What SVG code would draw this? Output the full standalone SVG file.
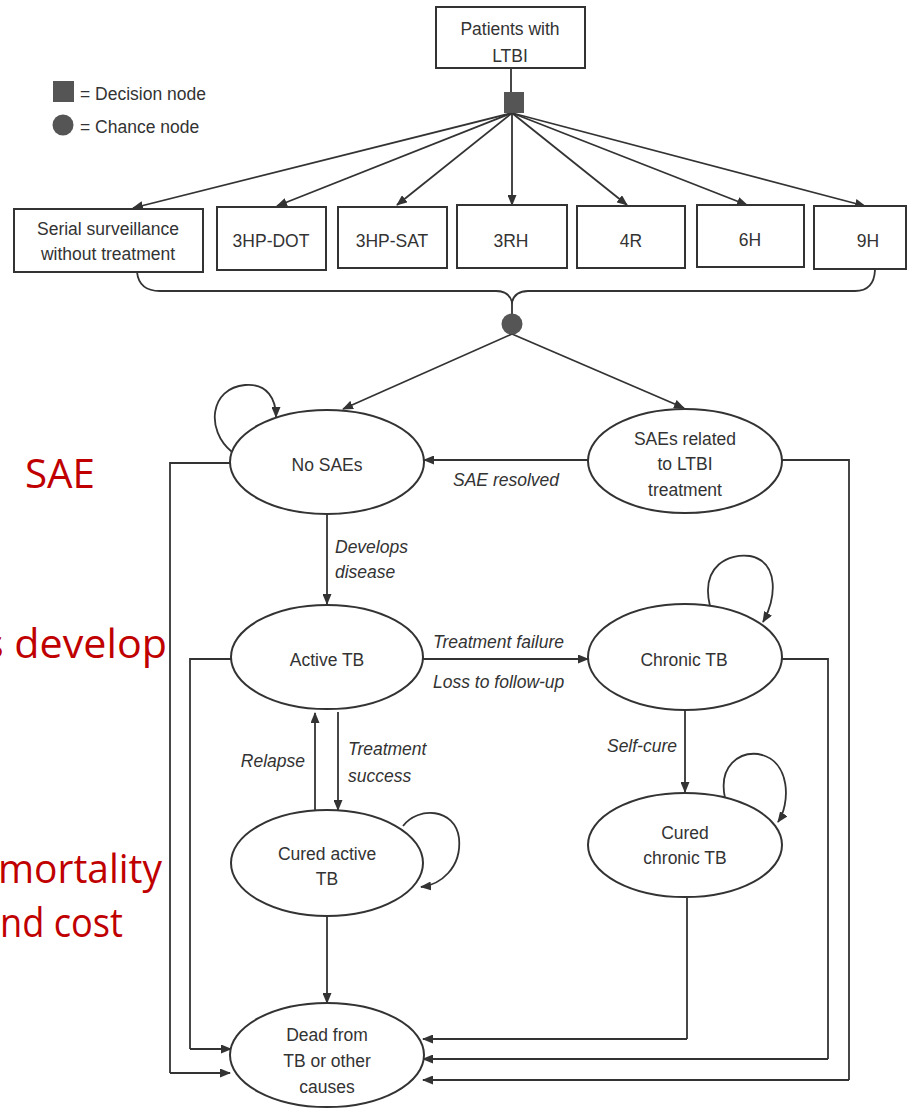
<svg xmlns="http://www.w3.org/2000/svg" width="907" height="1109" viewBox="0 0 907 1109">
<style>
.t{font-family:"Liberation Sans",Arial,sans-serif;font-size:17.5px;fill:#333;text-anchor:middle}
.i{font-family:"Liberation Sans",Arial,sans-serif;font-size:17.5px;fill:#333;font-style:italic}
.red{font-family:"Open Sans","Liberation Sans",sans-serif;font-size:41px;fill:#C00000}
.box{fill:#fff;stroke:#333;stroke-width:2}
.el{fill:#fff;stroke:#333;stroke-width:2}
.ln{fill:none;stroke:#333;stroke-width:1.8}
.arr{fill:none;stroke:#333;stroke-width:1.8;marker-end:url(#ah)}
</style>
<defs>
<marker id="ah" markerWidth="11" markerHeight="9" refX="10" refY="4.5" orient="auto" markerUnits="userSpaceOnUse">
<path d="M0,0 L11,4.5 L0,9 z" fill="#333"/>
</marker>
</defs>
<rect width="907" height="1109" fill="#fff"/>

<g id="side-notes">
<text class="red" x="25" y="488" textLength="70" lengthAdjust="spacingAndGlyphs">SAE</text>
<text class="red" x="-16" y="658" textLength="183" lengthAdjust="spacingAndGlyphs">s develop</text>
<text class="red" x="-2" y="883" textLength="164" lengthAdjust="spacingAndGlyphs">mortality</text>
<text class="red" x="0" y="937" textLength="123" lengthAdjust="spacingAndGlyphs">nd cost</text>
</g>

<g id="legend">
<rect x="53" y="81" width="21" height="21" fill="#555"/>
<text class="i" style="font-style:normal" x="80" y="100">= Decision node</text>
<circle cx="63" cy="125" r="10.5" fill="#555"/>
<text class="i" style="font-style:normal" x="80" y="133">= Chance node</text>
</g>

<g id="connectors">
<path class="ln" d="M511,68 V92"/>
<path class="arr" d="M512,113 L133,208"/>
<path class="arr" d="M512,113 L277,206"/>
<path class="arr" d="M512,113 L397,205"/>
<path class="arr" d="M512,113 L512,205"/>
<path class="arr" d="M512,113 L627,205"/>
<path class="arr" d="M512,113 L747,205"/>
<path class="arr" d="M512,113 L865,206"/>
<path class="ln" d="M137,272 Q139,291 160,291 L496,291 Q509,291 512,302 Q515,291 528,291 L855,291 Q874,291 875,270"/>
<path class="ln" d="M512,302 V314"/>
<path class="arr" d="M512,334 L343,409"/>
<path class="arr" d="M512,334 L684,408"/>
<path class="arr" d="M232,452 C205,430 210,388 245,385 C268,383 276,400 276,417"/>
<path class="arr" d="M588,460 H424"/>
<path class="ln" d="M230,463 H170 V1073"/>
<path class="arr" d="M170,1073 H230"/>
<path class="ln" d="M231,659 H190 V1049"/>
<path class="arr" d="M190,1049 H231"/>
<path class="ln" d="M782,460 H849 V1080"/>
<path class="arr" d="M849,1080 H423"/>
<path class="ln" d="M782,659 H828 V1059"/>
<path class="arr" d="M828,1059 H423"/>
<path class="ln" d="M687,898 V1039"/>
<path class="arr" d="M687,1039 H423"/>
<path class="arr" d="M327,515 V604"/>
<path class="arr" d="M423,659 H588"/>
<path class="arr" d="M338,712 V810"/>
<path class="arr" d="M315,810 V713"/>
<path class="arr" d="M327,916 V1003"/>
<path class="arr" d="M685,710 V792"/>
<path class="arr" d="M710,606 C700,565 730,553 750,556 C780,562 776,600 763,622"/>
<path class="arr" d="M725,798 C718,765 740,752 758,754 C792,760 790,805 778,822"/>
<path class="arr" d="M403,826 C418,806 455,808 459,838 C462,868 440,885 421,887"/>
</g>

<g id="n-patients"><rect class="box" x="436" y="7" width="149" height="61"/>
<text class="t" x="510" y="35">Patients with</text><text class="t" x="510" y="62">LTBI</text></g>
<g id="n-decision"><rect x="504" y="92" width="20" height="21" fill="#555"/></g>
<g id="n-serial"><rect class="box" x="14" y="209" width="189" height="63"/>
<text class="t" x="108" y="235">Serial surveillance</text><text class="t" x="108" y="260">without treatment</text></g>
<g id="n-3hpdot"><rect class="box" x="217" y="207" width="109" height="63"/><text class="t" x="271" y="247">3HP-DOT</text></g>
<g id="n-3hpsat"><rect class="box" x="338" y="207" width="109" height="61"/><text class="t" x="392" y="247">3HP-SAT</text></g>
<g id="n-3rh"><rect class="box" x="457" y="205" width="110" height="63"/><text class="t" x="511" y="247">3RH</text></g>
<g id="n-4r"><rect class="box" x="577" y="206" width="108" height="62"/><text class="t" x="631" y="247">4R</text></g>
<g id="n-6h"><rect class="box" x="697" y="205" width="107" height="62"/><text class="t" x="750" y="246">6H</text></g>
<g id="n-9h"><rect class="box" x="814" y="206" width="92" height="63"/><text class="t" x="868" y="247">9H</text></g>
<g id="n-chance"><circle cx="512" cy="324" r="10.5" fill="#555"/></g>

<g id="n-nosaes"><ellipse class="el" cx="327" cy="462" rx="97" ry="52"/><text class="t" x="327" y="471">No SAEs</text></g>
<g id="n-saes"><ellipse class="el" cx="685" cy="461" rx="97" ry="52"/>
<text class="t" x="685" y="445">SAEs related</text><text class="t" x="685" y="470">to LTBI</text><text class="t" x="685" y="496">treatment</text></g>
<g id="n-active"><ellipse class="el" cx="327" cy="657" rx="96" ry="52"/><text class="t" x="327" y="666">Active TB</text></g>
<g id="n-chronic"><ellipse class="el" cx="685" cy="657" rx="97" ry="53"/><text class="t" x="684" y="666">Chronic TB</text></g>
<g id="n-curedactive"><ellipse class="el" cx="327" cy="863" rx="96" ry="53"/>
<text class="t" x="327" y="860">Cured active</text><text class="t" x="327" y="885">TB</text></g>
<g id="n-curedchronic"><ellipse class="el" cx="685" cy="845" rx="97" ry="52"/>
<text class="t" x="685" y="839">Cured</text><text class="t" x="685" y="864">chronic TB</text></g>
<g id="n-dead"><ellipse class="el" cx="327" cy="1055" rx="97" ry="52"/>
<text class="t" x="327" y="1041">Dead from</text><text class="t" x="327" y="1067">TB or other</text><text class="t" x="327" y="1093">causes</text></g>

<g id="edge-labels">
<text class="i" x="453" y="486">SAE resolved</text>
<text class="i" x="335" y="553">Develops</text>
<text class="i" x="335" y="578">disease</text>
<text class="i" x="433" y="648">Treatment failure</text>
<text class="i" x="433" y="688">Loss to follow-up</text>
<text class="i" x="305" y="767" text-anchor="end">Relapse</text>
<text class="i" x="348" y="755">Treatment</text>
<text class="i" x="348" y="782">success</text>
<text class="i" x="677" y="752" text-anchor="end">Self-cure</text>
</g>
</svg>
